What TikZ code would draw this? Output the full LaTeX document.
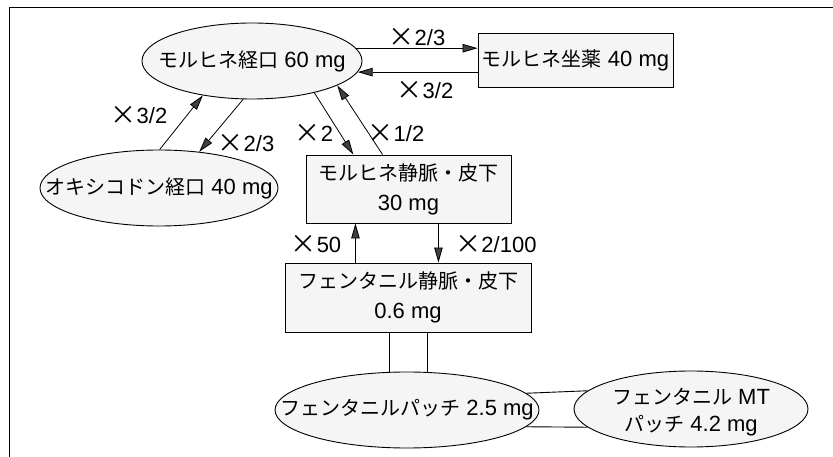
\documentclass[tikz,border=0pt]{standalone}
\usepackage{fontspec}
\setmainfont{Liberation Sans}
\newfontfamily\jpfont{Noto Sans CJK JP}
\newcommand\J[1]{{\jpfont\fontsize{20}{30}\selectfont #1}}
\newcommand\X{{\jpfont\fontsize{26}{30}\selectfont\raisebox{-1pt}{×}}}
\usetikzlibrary{shapes.geometric,arrows.meta}
\begin{document}
\begin{tikzpicture}[x=1pt,y=-1pt,
  every node/.style={font=\fontsize{22}{30}\selectfont},
  oval/.style={draw,ellipse,fill=black!4,line width=0.9pt,inner sep=0pt},
  box/.style={draw,rectangle,fill=black!4,line width=0.9pt,inner sep=0pt,align=center},
  txt/.style={align=center,inner sep=0pt},
  lbl/.style={inner sep=0pt},
  arr/.style={line width=0.8pt,-{Triangle[length=15pt,width=8.5pt,fill=black!75]}},
  link/.style={line width=0.9pt}]
\useasboundingbox (0,0) rectangle (833,457);
\draw[line width=1.5pt] (833,7.5) -- (9.5,7.5) -- (9.5,457);

% nodes
\node[oval,minimum width=220pt,minimum height=76pt] (moral) at (252,61) {};
\node[txt] (moralt) at (moral) {\J{モルヒネ経口} 60 mg};

\node[box,minimum width=195pt,minimum height=54pt] (supp) at (575.5,60) {\J{モルヒネ坐薬} 40 mg};

\node[oval,minimum width=238pt,minimum height=76pt] (oxy) at (159,188) {};
\node[txt] (oxyt) at (oxy) {\J{オキシコドン経口} 40 mg};

\node[box,minimum width=205pt,minimum height=68pt] (miv) at (408.5,189) {\J{モルヒネ静脈・皮下}\\30 mg};

\node[box,minimum width=246pt,minimum height=69pt] (fiv) at (408,297.5) {\J{フェンタニル静脈・皮下}\\0.6 mg};

\node[oval,minimum width=264pt,minimum height=76pt] (patch) at (407,410) {};
\node[txt] (patcht) at (patch) {\J{フェンタニルパッチ} 2.5 mg};

\node[oval,minimum width=234pt,minimum height=76pt] (mt) at (691,409) {};
\node[txt,font=\fontsize{22}{27}\selectfont] (mtt) at (691,412) {\J{フェンタニル} MT\\\J{パッチ} 4.2 mg};

% arrows
\draw[arr] (moral.7.5) -- (moral.7.5 -| supp.west);
\draw[arr] (moral.-6 -| supp.west) -- (moral.-6);
\draw[arr] (moral.-27) -- (miv.148.5);
\draw[arr] (miv.127) -- (moral.-16);
\draw[arr] (oxy.89) -- (moral.215);
\draw[arr] (moral.257) -- (oxy.42);
\draw[arr] (fiv.north -| miv.213.4) -- (miv.213.4);
\draw[arr] (miv.-49) -- (miv.-49 |- fiv.north);

% plain links
\draw[link] ([xshift=-19pt]fiv.south) -- ([xshift=-19pt]fiv.south |- patch.north);
\draw[link] ([xshift=19pt]fiv.south) -- ([xshift=19pt]fiv.south |- patch.north);
\draw[link] (patch.8.8) -- (mt.170.8);
\draw[link] (patch.-8.8) -- (mt.190.7);

% labels
\node[lbl] (l1) at (417,37) {\X2/3};
\node[lbl] (l2) at (425,90) {\X3/2};
\node[lbl] (l3) at (139,115) {\X3/2};
\node[lbl] (l4) at (246,143) {\X2/3};
\node[lbl] (l5) at (314,133) {\X2};
\node[lbl] (l6) at (396,133) {\X1/2};
\node[lbl] (l7) at (316,244) {\X50};
\node[lbl] (l8) at (496,244) {\X2/100};
\end{tikzpicture}
\end{document}
